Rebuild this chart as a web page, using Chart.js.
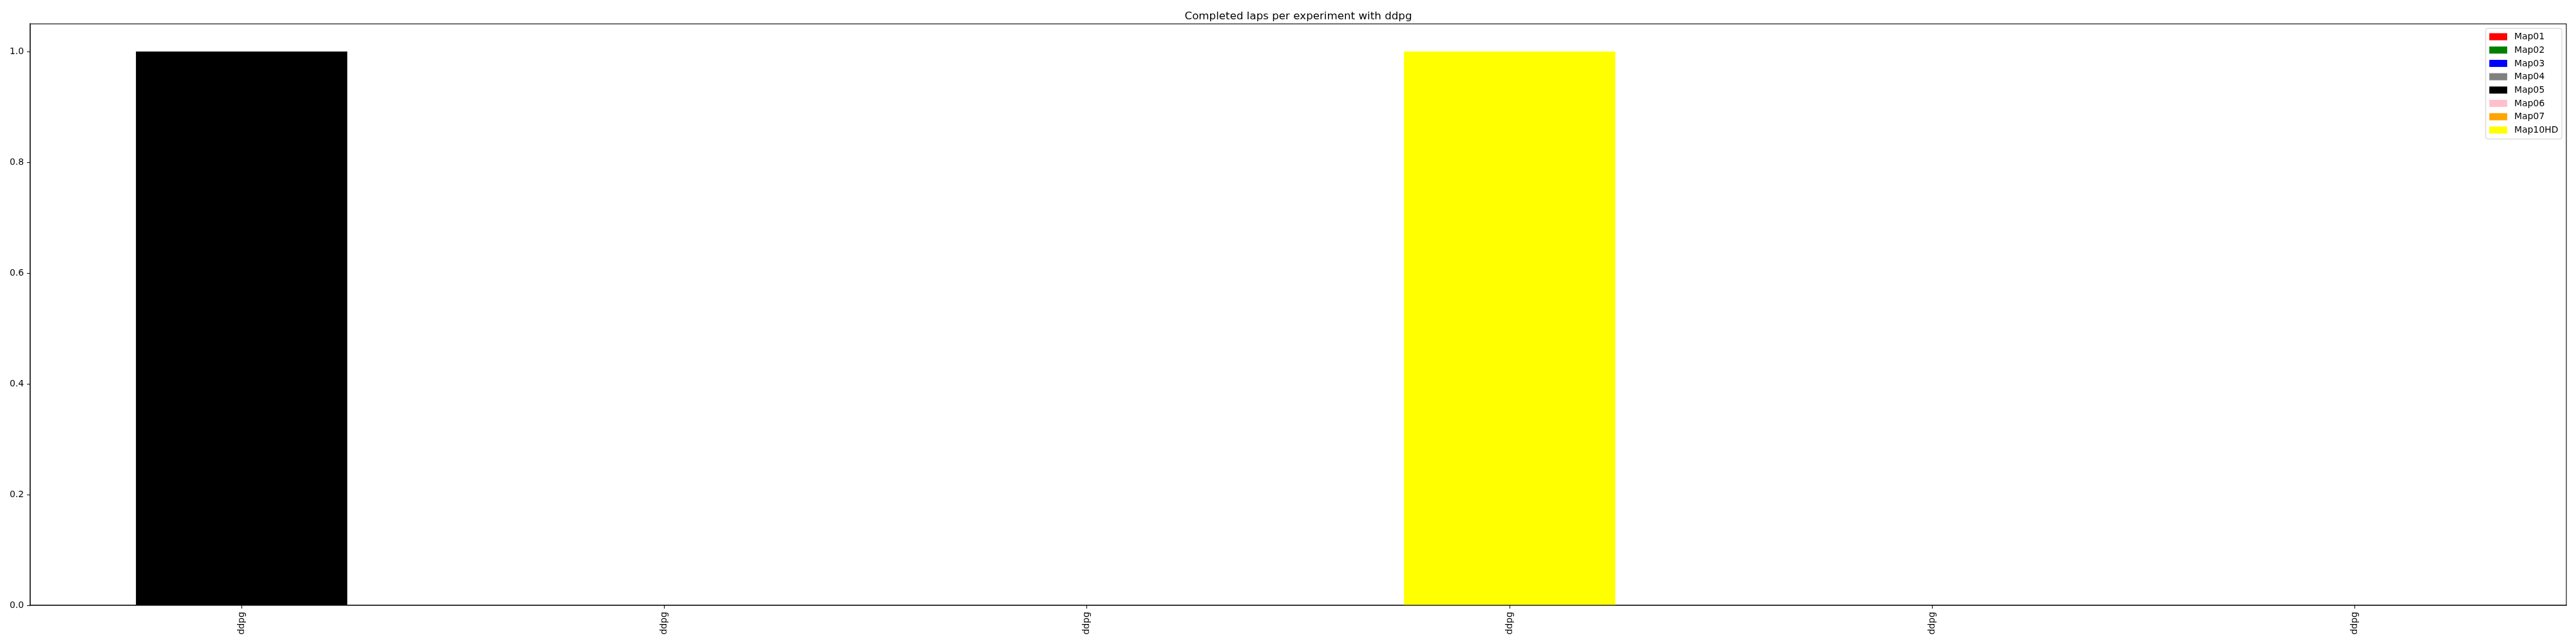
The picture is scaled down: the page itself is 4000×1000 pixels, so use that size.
<!DOCTYPE html>
<html>
<head>
<meta charset="utf-8">
<script src="https://cdn.jsdelivr.net/npm/chart.js@4/dist/chart.umd.min.js"></script>
<style>
html, body { margin: 0; padding: 0; background: #ffffff; }
canvas { display: block; }
</style>
</head>
<body>
<canvas id="c" width="4000" height="1000" style="width:4000px;height:1000px"></canvas>
<script>
const experiments = ['ddpg', 'ddpg', 'ddpg', 'ddpg', 'ddpg', 'ddpg'];
const mapNames = ['Map01', 'Map02', 'Map03', 'Map04', 'Map05', 'Map06', 'Map07', 'Map10HD'];
const mapColors = ['#ff0000', '#008000', '#0000ff', '#808080', '#000000', '#ffc0cb', '#ffa500', '#ffff00'];
const map01 = [0, 0, 0, 0, 0, 0];
const map02 = [0, 0, 0, 0, 0, 0];
const map03 = [0, 0, 0, 0, 0, 0];
const map04 = [0, 0, 0, 0, 0, 0];
const map05 = [1, 0, 0, 0, 0, 0];
const map06 = [0, 0, 0, 0, 0, 0];
const map07 = [0, 0, 0, 0, 0, 0];
const map10hd = [0, 0, 0, 1, 0, 0];
const yTicks = [0.0, 0.2, 0.4, 0.6, 0.8, 1.0];
const titleText = 'Completed laps per experiment with ddpg';

const seriesValues = [map01, map02, map03, map04, map05, map06, map07, map10hd];
const FONT = "'DejaVu Sans', sans-serif";

const datasets = mapNames.map((name, i) => ({
  label: name,
  data: seriesValues[i],
  backgroundColor: mapColors[i],
  borderWidth: 0,
  barPercentage: 0.5,
  categoryPercentage: 1.0
}));

const framePlugin = {
  id: 'frame',
  afterDraw(chart) {
    const ctx = chart.ctx;
    const a = chart.chartArea;
    ctx.save();
    ctx.strokeStyle = '#000000';
    ctx.lineWidth = 1.1;
    ctx.strokeRect(a.left, a.top, a.right - a.left, a.bottom - a.top);
    ctx.restore();
  }
};

const legendPlugin = {
  id: 'mplLegend',
  afterDraw(chart) {
    const ctx = chart.ctx;
    const a = chart.chartArea;
    const ds = chart.data.datasets;
    const fs = 13.9;
    ctx.save();
    ctx.font = fs + 'px ' + FONT;
    let maxW = 0;
    ds.forEach(d => { maxW = Math.max(maxW, ctx.measureText(d.label).width); });
    const pad = 5.6, handleW = 27.8, textPad = 11.1, rowH = 20.7;
    const boxW = pad * 2 + handleW + textPad + maxW;
    const boxH = 13 + rowH * (ds.length - 1) + 14;
    const right = a.right - 7;
    const left = right - boxW;
    const top = a.top + 7;
    ctx.beginPath();
    if (ctx.roundRect) ctx.roundRect(left, top, boxW, boxH, 3);
    else ctx.rect(left, top, boxW, boxH);
    ctx.fillStyle = 'rgba(255,255,255,0.8)';
    ctx.fill();
    ctx.strokeStyle = '#cccccc';
    ctx.lineWidth = 1;
    ctx.stroke();
    ds.forEach((d, i) => {
      const cy = top + 13 + i * rowH;
      ctx.fillStyle = d.backgroundColor;
      ctx.fillRect(left + pad, cy - 5.5, handleW, 11);
      ctx.fillStyle = '#000000';
      ctx.textBaseline = 'middle';
      ctx.textAlign = 'left';
      ctx.fillText(d.label, left + pad + handleW + textPad, cy + 0.5);
    });
    ctx.restore();
  }
};

new Chart(document.getElementById('c'), {
  type: 'bar',
  data: { labels: experiments, datasets: datasets },
  options: {
    responsive: false,
    maintainAspectRatio: false,
    devicePixelRatio: 1,
    animation: false,
    layout: { padding: { left: 0, right: 15, top: 0, bottom: 0 } },
    plugins: {
      legend: { display: false },
      tooltip: { enabled: false },
      title: {
        display: true,
        text: titleText,
        fullSize: false,
        color: '#000000',
        font: { family: FONT, size: 16.7, weight: 'normal', lineHeight: 1.2 },
        padding: { top: 16, bottom: 1 }
      }
    },
    scales: {
      x: {
        stacked: true,
        offset: true,
        grid: { display: true, drawOnChartArea: false, offset: false, tickLength: 5, tickColor: '#000000', tickWidth: 1 },
        border: { display: true, color: '#000000', width: 1.1 },
        ticks: {
          autoSkip: false,
          minRotation: 90,
          maxRotation: 90,
          padding: 5,
          color: '#000000',
          font: { family: FONT, size: 13.9 }
        },
        afterFit(scale) { scale.height = 60; }
      },
      y: {
        stacked: true,
        min: 0,
        max: 1.05,
        grid: { display: true, drawOnChartArea: false, tickLength: 5, tickColor: '#000000', tickWidth: 1 },
        border: { display: true, color: '#000000', width: 1.1 },
        ticks: {
          padding: 5,
          color: '#000000',
          font: { family: FONT, size: 13.9 },
          callback: (v) => Number(v).toFixed(1)
        },
        afterBuildTicks(scale) { scale.ticks = yTicks.map(v => ({ value: v })); },
        afterFit(scale) { scale.width = 47; }
      }
    }
  },
  plugins: [framePlugin, legendPlugin]
});
</script>
</body>
</html>
